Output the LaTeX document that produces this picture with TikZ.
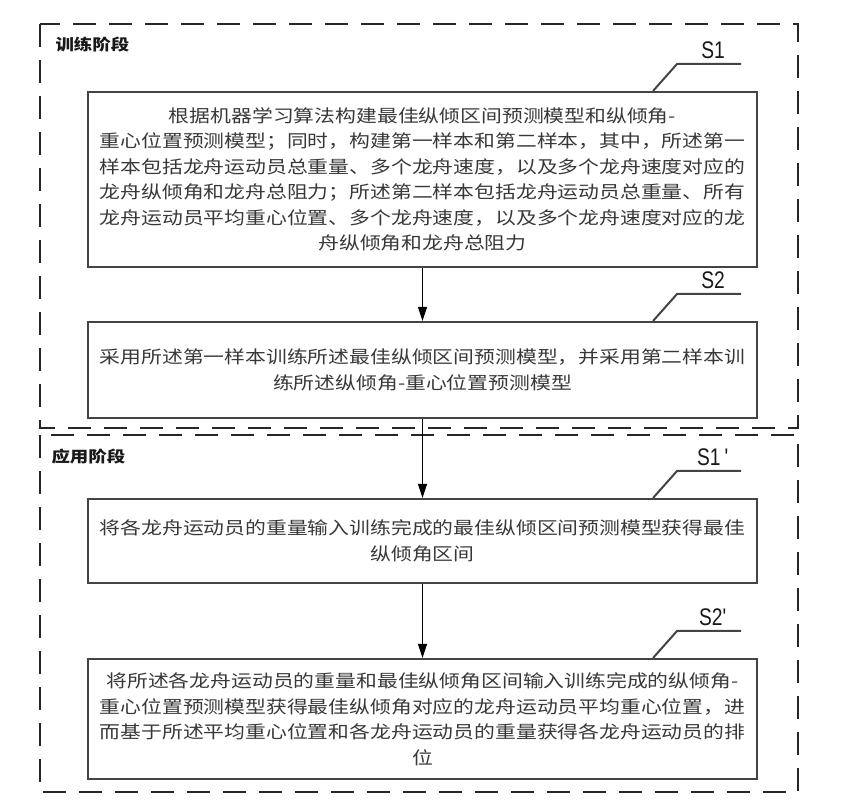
\documentclass[tikz,border=0pt]{standalone}
\usepackage{fontspec}
\usetikzlibrary{arrows.meta,positioning}
\newfontfamily\cjk[FakeStretch=1.19]{Noto Sans CJK SC}
\newfontfamily\steplabel[FakeStretch=0.8]{Liberation Sans}
\definecolor{inkgray}{HTML}{383838}
\definecolor{framegray}{HTML}{444444}
\tikzset{
  stepbox/.style={draw=framegray,line width=2.2pt,minimum width=669pt,inner sep=0pt,
    align=center,text=inkgray,font=\cjk\fontsize{17.5}{25.5}\selectfont},
  stagebox/.style={draw=black!85,line width=2.2pt,dash pattern=on 23pt off 13pt},
  stagelabel/.style={text=black!90,font=\cjk\bfseries\fontsize{15.5}{18}\selectfont},
  leader/.style={draw=framegray,line width=2pt},
  flow/.style={line width=1.4pt,-{Triangle[length=14pt,width=9pt]}}
}
\begin{document}
\begin{tikzpicture}[x=1pt,y=-1pt]
  \useasboundingbox (0,0) rectangle (846,801);
  % the two stages
  \draw[stagebox] (40,24) rectangle (798,428);
  \draw[stagebox] (40,435) rectangle (798,792);
  \node[stagelabel,anchor=west] (TrainLabel) at (52,45) {训练阶段};
  \node[stagelabel,anchor=west] (ApplyLabel) at (48,457) {应用阶段};
  % steps
  \node[stepbox,minimum height=175pt] (StepOne) at (422.5,179.5) {根据机器学习算法构建最佳纵倾区间预测模型和纵倾角-\\
    重心位置预测模型；同时，构建第一样本和第二样本，其中，所述第一\\
    样本包括龙舟运动员总重量、多个龙舟速度，以及多个龙舟速度对应的\\
    龙舟纵倾角和龙舟总阻力；所述第二样本包括龙舟运动员总重量、所有\\
    龙舟运动员平均重心位置、多个龙舟速度，以及多个龙舟速度对应的龙\\
    舟纵倾角和龙舟总阻力};
  \node[stepbox,minimum height=96pt] (StepTwo) at (422.5,370) {采用所述第一样本训练所述最佳纵倾区间预测模型，并采用第二样本训\\
    练所述纵倾角-重心位置预测模型};
  \node[stepbox,minimum height=84pt] (ApplyOne) at (422.5,541) {将各龙舟运动员的重量输入训练完成的最佳纵倾区间预测模型获得最佳\\
    纵倾角区间};
  \node[stepbox,minimum height=120pt] (ApplyTwo) at (422.5,719) {将所述各龙舟运动员的重量和最佳纵倾角区间输入训练完成的纵倾角-\\
    重心位置预测模型获得最佳纵倾角对应的龙舟运动员平均重心位置，进\\
    而基于所述平均重心位置和各龙舟运动员的重量获得各龙舟运动员的排\\
    位};
  \draw[flow] (StepOne) -- (StepTwo);
  \draw[flow] (StepTwo) -- (ApplyOne);
  \draw[flow] (ApplyOne) -- (ApplyTwo);
  % step tags
  \foreach \step/\tag in {StepOne/{S1},StepTwo/{S2},ApplyOne/{S1\,\textquotesingle},ApplyTwo/{S2\textquotesingle}}{%
    \draw[leader] ([xshift=-105pt]\step.north east) -- ++(24,-27) -- ++(64,0)
      node[midway,above=1pt,xshift=4pt,text=black!90,font=\steplabel\fontsize{24}{24}\selectfont] {\tag};
  }
\end{tikzpicture}
\end{document}
